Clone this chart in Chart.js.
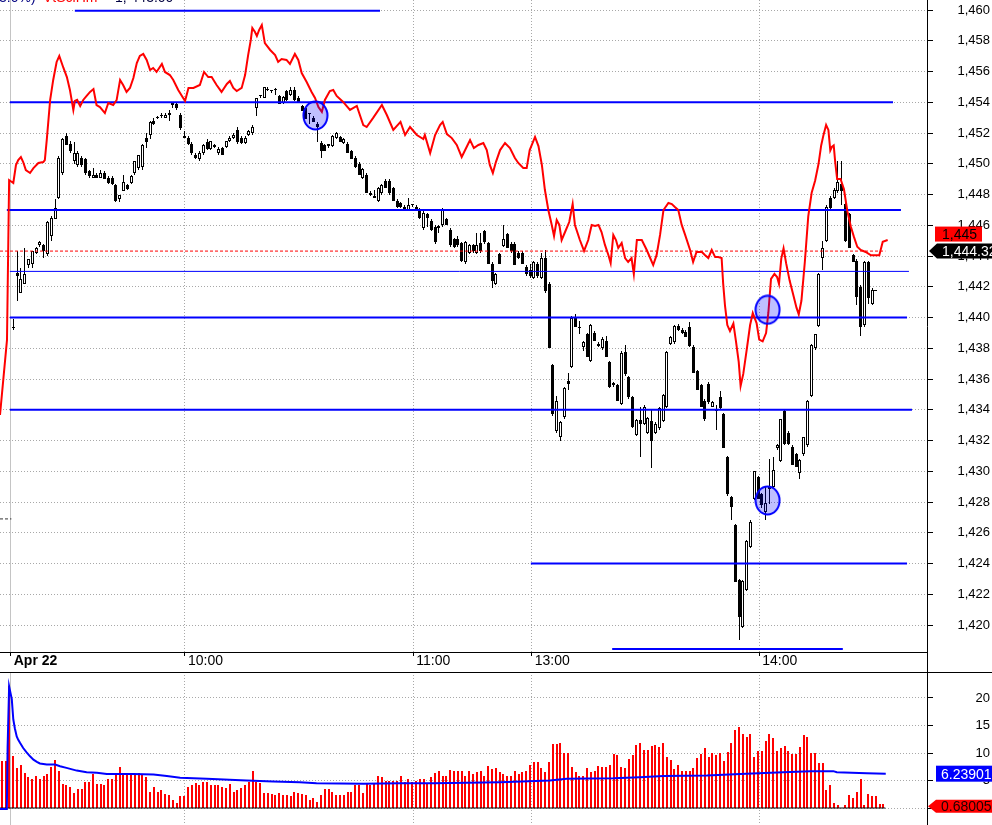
<!DOCTYPE html>
<html>
<head>
<meta charset="utf-8">
<script src="https://cdn.jsdelivr.net/npm/chart.js@4.4.1/dist/chart.umd.min.js"></script>
<style>
  html, body { margin: 0; padding: 0; background: #fff; }
  #wrap { position: relative; width: 992px; height: 825px; overflow: hidden; }
  #price { position: absolute; left: 0; top: 0; }
  #volume { position: absolute; left: 0; top: 672px; }
</style>
</head>
<body>
<div id="wrap">
  <canvas id="price" width="992" height="672"></canvas>
  <canvas id="volume" width="992" height="153"></canvas>
</div>
<script>
// time axis: one slot per 1-minute bar, 0 = first bar of Apr 22
const timeTickIdx = [-0.68, 45.18, 105.26, 136.42, 196.3];
const timeTickLabels = ['Apr 22', '10:00', '11:00', '13:00', '14:00'];
const priceTicks = [1420, 1422, 1424, 1426, 1428, 1430, 1432, 1434, 1436, 1438, 1440,
  1442, 1444, 1446, 1448, 1450, 1452, 1454, 1456, 1458, 1460];
const volumeTicks = [0, 5, 10, 15, 20];

// [open, high, low, close] per bar
const candles = [
  [1439.3,1439.9,1439.2,1439.3],[1442.9,1444.3,1441.1,1442.7],[1441.6,1443.2,1441.6,1442.5],[1442.2,1444.5,1442.2,1442.8],[1443.4,1443.8,1443.2,1443.8],
  [1443.5,1444.3,1443.2,1444.3],[1444.2,1444.6,1444.1,1444.5],[1444.7,1445.0,1444.6,1444.9],[1444.7,1444.8,1443.9,1444.3],[1444.1,1446.3,1444.0,1446.2],
  [1445.3,1446.6,1445.0,1446.5],[1446.4,1447.7,1446.4,1447.1],[1447.8,1450.5,1447.7,1450.4],[1449.4,1451.7,1449.3,1451.6],[1451.8,1452.0,1451.2,1451.2],
  [1451.3,1451.5,1450.7,1450.8],[1450.2,1451.4,1450.0,1450.7],[1449.9,1450.8,1449.8,1450.7],[1450.4,1450.5,1449.8,1449.9],[1450.3,1450.4,1449.3,1449.4],
  [1449.5,1449.6,1449.1,1449.2],[1449.1,1449.7,1449.1,1449.3],[1449.3,1449.4,1449.1,1449.1],[1449.1,1449.6,1449.1,1449.4],[1449.4,1449.5,1449.0,1449.0],
  [1449.1,1449.2,1448.7,1448.75],[1449.1,1449.2,1448.6,1448.7],[1448.6,1448.7,1447.5,1447.6],[1447.7,1448.0,1447.5,1448.0],[1448.2,1449.3,1448.2,1448.8],
  [1448.6,1448.7,1448.3,1448.35],[1448.75,1449.3,1448.7,1449.2],[1449.4,1450.2,1449.3,1450.2],[1449.7,1450.6,1449.6,1450.6],[1449.8,1451.3,1449.6,1451.2],
  [1451.7,1452.0,1451.0,1451.4],[1451.9,1452.8,1451.6,1452.7],[1452.8,1453.0,1452.5,1452.6],[1453.0,1453.1,1452.9,1453.0],[1453.1,1453.3,1453.0,1453.1],
  [1453.0,1453.3,1453.0,1453.2],[1453.2,1453.5,1452.8,1453.3],[1454.0,1454.0,1453.6,1453.8],[1453.9,1454.0,1453.5,1453.6],[1453.2,1453.3,1452.2,1452.3],
  [1451.8,1452.1,1451.7,1451.7],[1451.7,1451.8,1451.2,1451.3],[1451.3,1451.4,1450.6,1450.7],[1450.6,1450.7,1450.3,1450.4],[1450.3,1450.8,1450.2,1450.7],
  [1450.7,1451.3,1450.6,1451.2],[1451.4,1451.6,1450.9,1450.95],[1450.95,1451.5,1450.9,1451.5],[1451.2,1451.3,1451.0,1451.1],[1450.7,1451.1,1450.6,1450.95],
  [1451.0,1451.1,1450.6,1450.6],[1451.1,1451.5,1451.0,1451.5],[1451.5,1451.8,1451.4,1451.7],[1451.7,1452.0,1451.6,1451.9],[1452.2,1452.4,1451.3,1451.4],
  [1451.7,1451.8,1451.3,1451.35],[1451.35,1451.8,1451.3,1451.7],[1451.9,1452.2,1451.8,1452.1],[1452.0,1452.5,1451.9,1452.4],[1453.6,1454.3,1453.1,1454.3],
  [1454.4,1454.5,1454.3,1454.4],[1454.3,1455.0,1454.3,1455.0],[1454.8,1455.0,1454.7,1454.8],[1454.7,1454.8,1454.6,1454.7],[1454.8,1454.9,1454.5,1454.8],
  [1454.4,1454.5,1453.9,1453.9],[1453.95,1454.4,1453.9,1454.35],[1454.7,1454.8,1454.1,1454.15],[1454.5,1455.0,1454.4,1454.8],[1454.8,1455.0,1454.1,1454.15],
  [1454.3,1454.4,1454.0,1454.0],[1453.75,1453.8,1453.4,1453.45],[1453.6,1453.7,1452.9,1452.9],[1453.3,1453.3,1452.6,1453.25],[1453.0,1453.1,1452.7,1452.7],
  [1452.6,1452.7,1451.4,1452.4],[1451.35,1451.5,1450.4,1450.8],[1451.2,1451.3,1450.8,1450.8],[1451.15,1451.3,1451.0,1451.3],[1451.15,1451.9,1451.1,1451.8],
  [1451.7,1452.05,1451.6,1452.0],[1451.75,1451.8,1451.4,1451.4],[1451.35,1451.7,1451.3,1451.6],[1451.3,1451.4,1450.7,1450.7],[1450.8,1450.9,1450.3,1450.3],
  [1450.4,1450.5,1449.7,1449.8],[1450.0,1450.1,1449.3,1449.3],[1449.05,1449.7,1449.0,1449.65],[1449.3,1449.4,1448.1,1448.1],[1448.1,1448.2,1447.9,1447.95],
  [1447.8,1448.3,1447.8,1447.9],[1447.6,1448.5,1447.5,1448.4],[1448.1,1448.7,1448.0,1448.6],[1448.9,1449.0,1448.4,1448.4],[1448.9,1449.0,1448.0,1448.1],
  [1448.4,1448.5,1447.6,1447.6],[1447.6,1447.7,1447.1,1447.2],[1447.45,1447.5,1447.1,1447.2],[1447.2,1447.3,1446.9,1447.0],[1446.9,1447.8,1446.9,1447.3],
  [1447.3,1447.4,1447.2,1447.3],[1447.2,1447.3,1447.0,1447.05],[1447.0,1447.1,1446.4,1446.5],[1445.8,1446.9,1445.7,1446.8],[1446.7,1446.8,1445.9,1446.5],
  [1446.3,1446.4,1445.6,1445.7],[1445.9,1446.0,1444.8,1444.9],[1445.8,1446.0,1445.5,1445.95],[1446.0,1447.1,1445.9,1447.0],[1446.4,1446.5,1446.0,1446.0],
  [1445.7,1445.8,1444.6,1444.7],[1445.1,1445.2,1444.5,1444.6],[1445.1,1445.3,1444.6,1444.7],[1444.85,1444.9,1443.6,1443.7],[1443.6,1445.0,1443.5,1444.9],
  [1444.2,1444.8,1444.1,1444.7],[1444.7,1444.8,1444.2,1444.3],[1444.2,1445.5,1444.1,1444.7],[1444.85,1445.5,1444.2,1444.3],[1445.6,1445.7,1444.8,1444.9],
  [1444.85,1444.9,1443.5,1443.5],[1443.5,1443.6,1441.9,1442.4],[1442.2,1442.9,1442.1,1442.8],[1444.1,1444.2,1443.5,1443.5],[1444.65,1446.0,1444.6,1445.1],
  [1445.4,1445.5,1444.5,1444.5],[1444.8,1444.9,1444.2,1444.3],[1444.8,1444.9,1443.4,1443.4],[1444.2,1444.3,1443.8,1443.9],[1444.2,1444.3,1443.5,1443.5],
  [1443.3,1443.4,1442.7,1442.8],[1443.1,1443.5,1442.6,1442.7],[1442.6,1443.7,1442.5,1443.6],[1443.5,1443.6,1442.6,1442.7],[1442.6,1444.2,1442.5,1443.9],
  [1443.9,1444.4,1441.6,1441.7],[1442.2,1442.3,1438.0,1438.0],[1436.9,1437.0,1433.6,1433.7],[1432.6,1434.9,1432.5,1434.6],[1432.2,1433.3,1432.0,1433.2],
  [1433.5,1435.5,1433.4,1435.4],[1435.9,1436.4,1435.3,1435.7],[1436.8,1440.1,1436.7,1440.0],[1440.0,1440.2,1439.35,1439.4],[1439.35,1439.8,1438.9,1439.3],
  [1438.1,1438.5,1437.8,1438.4],[1438.9,1439.0,1437.4,1437.4],[1437.2,1439.6,1437.1,1439.5],[1439.0,1439.1,1438.5,1438.5],[1438.3,1438.4,1438.1,1438.15],
  [1438.0,1438.7,1437.9,1438.6],[1438.5,1438.8,1437.4,1437.4],[1437.1,1437.2,1435.4,1435.5],[1435.6,1435.8,1435.5,1435.75],[1435.6,1435.7,1434.6,1434.6],
  [1434.4,1437.8,1434.3,1437.7],[1437.75,1438.2,1436.2,1436.3],[1436.1,1436.2,1434.7,1434.8],[1434.8,1434.9,1432.8,1432.9],[1432.35,1433.4,1432.3,1433.35],
  [1433.35,1434.2,1430.9,1433.1],[1433.1,1434.3,1433.0,1434.2],[1432.5,1433.5,1432.4,1433.45],[1433.3,1434.0,1430.2,1432.0],[1432.5,1433.2,1432.4,1433.1],
  [1432.8,1434.2,1432.7,1434.1],[1433.3,1435.0,1433.2,1434.95],[1434.2,1437.8,1434.1,1437.75],[1438.3,1438.8,1438.2,1438.7],[1438.4,1439.5,1438.3,1439.45],
  [1439.45,1439.6,1439.1,1439.2],[1439.2,1439.3,1438.9,1439.0],[1439.05,1439.2,1438.7,1438.75],[1439.4,1439.7,1438.1,1438.15],[1438.1,1438.2,1436.4,1436.4],
  [1436.5,1436.6,1435.3,1435.3],[1435.6,1435.7,1434.2,1434.2],[1434.6,1434.7,1433.3,1433.4],[1435.7,1435.8,1434.4,1434.5],[1434.2,1434.6,1434.15,1434.5],
  [1434.05,1434.3,1432.7,1433.9],[1434.8,1435.2,1434.0,1434.1],[1433.7,1433.8,1431.5,1431.5],[1430.9,1431.0,1428.4,1428.5],[1428.3,1428.4,1426.8,1427.7],
  [1426.5,1426.6,1422.8,1422.8],[1422.9,1423.0,1419.0,1420.5],[1419.9,1422.9,1419.8,1422.85],[1422.3,1425.5,1422.2,1425.45],[1425.05,1426.8,1425.0,1426.7],
  [1428.2,1430.0,1428.1,1430.0],[1429.6,1429.7,1428.2,1428.2],[1428.5,1428.6,1427.6,1427.8],[1427.35,1428.95,1426.8,1427.95],[1428.85,1430.8,1427.9,1429.0],
  [1429.0,1430.9,1428.9,1430.1],[1431.5,1431.8,1431.4,1431.7],[1430.65,1433.4,1430.6,1433.4],[1433.95,1434.0,1431.7,1431.75],[1432.5,1432.6,1431.7,1431.75],
  [1431.6,1431.7,1430.4,1430.4],[1431.1,1431.2,1430.3,1430.3],[1429.9,1430.8,1429.5,1430.75],[1431.1,1432.25,1431.0,1432.2],[1431.7,1434.65,1431.6,1434.6],
  [1434.9,1438.3,1434.8,1438.2],[1438.0,1438.9,1437.9,1438.9],[1439.45,1442.9,1439.4,1442.85],[1443.9,1445.0,1443.1,1444.5],[1445.0,1447.3,1444.9,1447.2],
  [1447.75,1447.9,1447.0,1447.1],[1447.8,1448.4,1447.7,1448.3],[1448.2,1450.2,1448.1,1448.8],[1448.7,1450.2,1447.3,1448.25],[1447.4,1447.5,1444.9,1444.95],
  [1446.7,1446.8,1444.5,1444.5],[1444.05,1444.1,1443.6,1443.6],[1443.7,1443.8,1440.8,1441.35],[1442.0,1442.1,1438.8,1439.4],[1439.5,1443.7,1439.4,1443.6],
  [1443.6,1443.7,1440.9,1441.3],[1440.9,1441.9,1440.8,1441.8],[1441.75,1441.8,1441.7,1441.75]
];

// overlay instrument (red line), read at bar positions
const redIdx = [-3.5,-1.66,-1.1,0,0.7,1.3,2.0,2.6,3.3,4.4,5.3,6.6,7.9,8.3,8.8,9.7,10.5,11.4,12.1,13.2,
  14.1,14.9,15.8,16.2,16.8,17.6,18.4,19.3,20.2,21.1,21.9,22.8,24.1,25.0,26.3,27.2,28.1,28.9,29.8,30.7,
  31.6,32.5,33.3,34.2,35.1,36.0,36.8,37.7,39.1,39.9,41.2,42.1,43.4,44.7,45.2,46.1,47.4,49.1,50.2,51.3,
  52.2,53.5,54.8,56.2,57.0,57.9,58.8,60.1,61.0,61.8,62.5,62.9,63.6,64.1,64.7,65.4,66.2,67.6,68.9,69.7,
  70.6,71.9,72.8,74.1,75.0,75.9,77.2,78.5,79.4,80.3,81.2,82.0,83.3,84.2,85.1,86.8,88.6,90.4,92.1,93.0,
  94.7,97.0,98.3,100.0,101.9,103.1,104.4,106.2,107.9,108.3,109.7,111.0,112.3,113.0,114.1,115.4,116.7,118.0,119.3,120.2,
  121.2,122.4,123.7,124.6,125.4,126.2,127.0,128.1,129.4,130.7,132.0,132.9,134.2,135.1,135.9,137.3,138.2,139.1,139.9,140.8,
  141.7,142.3,143.0,143.7,144.3,145.2,146.3,147.2,147.8,149.1,150.2,151.3,152.2,153.1,154.0,154.8,155.7,156.6,157.2,157.9,
  158.6,159.2,160.1,161.0,161.8,162.7,163.3,164.1,165.4,166.7,167.6,168.4,169.3,170.2,171.1,172.4,173.3,174.1,175.0,175.9,
  176.8,178.1,178.9,179.8,181.2,182.0,182.9,183.8,184.7,185.5,186.4,186.8,187.3,187.9,188.6,189.5,190.2,190.9,191.4,192.1,
  193.0,193.9,194.6,195.6,196.3,197.2,198.1,198.7,199.4,200.3,201.0,201.5,202.1,202.7,203.4,204.3,205.2,206.1,206.7,207.4,
  208.3,209.2,210.1,211.0,211.9,212.6,213.2,213.9,214.5,215.0,215.4,215.9,216.3,216.8,217.7,218.6,219.5,220.4,221.2,222.1,
  223.0,224.3,225.7,227.9,228.8,230.1];
const redVal = [1433.66,1438.54,1448.94,1448.75,1449.92,1450.24,1450.44,1450.11,1449.59,1449.40,1449.72,1450.05,1450.11,1450.24,1451.54,1454.15,1455.45,1456.62,1457.01,1456.23,
  1455.64,1454.80,1453.50,1454.08,1454.15,1453.76,1454.15,1454.41,1454.67,1454.86,1453.82,1453.69,1453.30,1453.95,1453.82,1454.15,1455.45,1455.12,1454.67,1454.93,
  1455.58,1456.55,1457.01,1457.14,1456.75,1456.10,1456.23,1455.97,1456.49,1455.97,1455.77,1455.45,1454.80,1454.28,1454.08,1454.93,1454.93,1455.12,1455.97,1455.64,
  1455.64,1455.12,1454.67,1455.19,1455.38,1454.93,1454.73,1454.93,1455.77,1457.07,1458.05,1458.83,1458.57,1458.31,1458.70,1459.02,1457.85,1457.40,1457.07,1456.62,
  1456.81,1456.75,1456.49,1457.14,1456.75,1455.90,1455.32,1454.67,1454.28,1453.69,1453.37,1454.15,1454.73,1454.80,1454.41,1454.02,1453.50,1453.76,1452.52,1452.39,
  1452.98,1453.82,1453.17,1452.20,1452.72,1451.87,1452.39,1451.87,1451.61,1451.87,1450.70,1451.87,1452.52,1452.72,1451.93,1451.67,1451.22,1450.44,1451.09,1451.54,
  1451.02,1451.22,1451.35,1450.89,1449.92,1449.40,1450.11,1450.89,1451.35,1451.02,1450.37,1450.05,1449.72,1449.72,1450.89,1451.74,1451.15,1449.92,1448.29,1446.99,
  1446.02,1445.30,1446.34,1446.02,1445.04,1445.56,1446.21,1447.38,1446.02,1445.04,1444.33,1445.04,1446.02,1445.95,1446.02,1445.56,1444.72,1444.07,1443.54,1445.37,
  1445.04,1444.52,1444.85,1443.87,1443.61,1443.87,1442.83,1445.04,1445.04,1444.39,1443.87,1443.41,1444.07,1445.37,1446.99,1447.45,1447.38,1447.19,1446.99,1446.02,
  1445.37,1444.39,1443.61,1444.26,1444.26,1444.07,1443.87,1444.39,1443.93,1443.93,1443.87,1442.24,1440.75,1439.51,1439.12,1439.61,1438.41,1437.11,1435.55,1436.33,
  1437.89,1439.51,1440.29,1439.64,1438.56,1438.45,1438.99,1440.31,1442.51,1442.84,1442.63,1442.18,1443.83,1444.49,1443.50,1442.40,1441.53,1440.64,1440.20,1441.09,
  1443.61,1446.58,1448.12,1448.89,1449.98,1451.19,1451.86,1452.52,1452.20,1450.87,1451.09,1451.19,1450.09,1449.01,1449.01,1448.34,1446.91,1445.92,1445.26,1444.60,
  1444.39,1444.26,1444.05,1444.05,1444.93,1445.04];

// horizontal levels: value, first bar, last bar
const levelValues = [1459.95, 1454, 1447, 1443, 1440, 1434, 1424, 1418.44];
const levelFrom = [16.2, -0.9, -1.7, -0.9, -0.9, -0.9, 136.2, 157.6];
const levelTo = [96.5, 231.5, 233.6, 235.7, 235.2, 236.5, 235.2, 218.3];
const lastPrice = 1444.32;
const prevMarkValue = 1426.9;

// circled bars
const markIdx = [79.5, 198.5, 198.5];
const markVal = [1453.14, 1440.5, 1428.1];

// volume panel
const volumeStart = -3;
const volumes = [8.5,8.5,22.1,9.5,7.2,7.9,6.4,5.6,5.2,5.8,
  5.2,5.9,6.1,7.4,8.8,6.7,4.4,4.2,3.9,2.7,
  3.5,3.5,4.7,4.8,6.1,4.4,4.4,4.1,5.2,5.3,
  6.2,7.4,6.2,6.2,6.1,6.2,6.4,6.1,5.6,2.9,
  3.8,2.9,3.3,2.6,2.4,1.5,1.0,2.1,2.2,3.8,
  4.2,4.5,4.2,4.8,4.8,4.2,4.2,4.1,3.9,3.6,
  4.4,3.0,3.2,3.6,4.1,4.8,6.7,4.8,4.5,2.8,
  2.8,2.6,2.3,2.7,2.4,2.4,2.1,2.9,2.7,2.6,
  2.3,1.5,1.8,1.1,2.4,3.5,3.5,2.9,2.3,2.4,
  2.4,2.9,2.9,4.1,4.1,2.7,4.4,4.2,4.5,5.9,
  5.6,5.0,5.0,5.0,5.0,5.8,4.7,5.2,4.8,5.0,
  5.2,5.2,4.5,5.6,6.4,6.7,5.9,5.9,7.0,6.8,
  6.7,6.7,5.9,6.7,6.1,6.5,6.7,5.9,7.6,7.1,
  7.3,
  6.5,6.2,5.9,5.8,6.8,6.1,6.5,6.8,7.9,8.3,
  8.4,7.2,6.5,8.4,11.7,11.7,11.9,10.0,10.0,7.4,
  6.6,5.8,5.9,7.3,6.5,6.7,7.7,7.5,7.5,7.9,
  9.9,9.7,7.5,7.2,9.0,9.7,11.5,11.8,10.6,10.6,
  11.3,11.5,11.1,11.8,9.3,8.7,7.1,7.9,6.8,6.8,
  6.7,7.2,9.1,9.9,10.9,9.2,10.0,9.7,10.0,8.6,
  10.2,11.8,14.1,14.7,13.5,13.0,13.5,9.3,10.3,10.4,
  12.1,13.5,12.8,10.4,11.0,11.3,10.3,9.9,9.9,11.1,
  13.3,13.0,10.0,10.0,8.1,8.1,3.3,4.1,1.0,0.5,
  0,0.5,2.4,1.9,2.9,5.2,0.6,2.6,2.2,2.2,
  0.68,0.68];
const volMaIdx = [-3.5,-1.7,-1.5,-1.1,-0.4,0.0,0.4,0.9,1.3,1.8,2.6,3.5,4.4,5.3,6.2,7.0,8.8,11.0,12.3,14.0,
  16.7,19.3,22.0,24.6,31.6,36.9,40.4,43.9,50.9,61.4,68.4,75.4,79.8,92.1,101.8,110.5,128.1,141.2,145.6,157.9,
  164.9,171.1,182.5,191.3,202.6,209.7,215.8,216.7,224.6,229.6];
const volMaVal = [-0.2,-0.2,11.0,22.1,19.8,16.1,14.5,13.0,12.4,11.8,10.9,10.1,9.4,8.8,8.4,8.1,7.9,7.9,7.6,7.3,
  6.8,6.5,6.4,6.2,6.2,6.1,5.8,5.5,5.3,5.0,4.8,4.7,4.5,4.4,4.5,4.5,4.7,5.0,5.3,5.4,
  5.6,5.8,5.9,6.2,6.5,6.7,6.7,6.5,6.3,6.24];
const volMaLast = 6.23901;
const volLast = 0.68005;

// ---- view window ----
const X_MIN = -3.5, X_MAX = 240.45;
const Y_MAX = 1460 + 10 / 15.375, Y_MIN = Y_MAX - 652 / 15.375;
const V_MAX = 136 / 5.5, V_MIN = V_MAX - 153 / 5.5;
const FONT = '"Liberation Sans", Arial, sans-serif';
const GRID = '#a8a8a8';
const dayTick = timeTickIdx[0];
const lastBar = volumeStart + volumes.length - 1;

function fmt(v, d) {
  return v.toLocaleString('en-US', { minimumFractionDigits: d, maximumFractionDigits: d });
}

function ringSprite() {
  const c = document.createElement('canvas');
  c.width = 27; c.height = 31;
  const g = c.getContext('2d');
  g.beginPath();
  g.ellipse(13.5, 15.5, 12, 14, 0, 0, Math.PI * 2);
  g.fillStyle = 'rgba(0,0,255,0.25)';
  g.fill();
  g.lineWidth = 2;
  g.strokeStyle = '#0000ff';
  g.stroke();
  return c;
}

// keep the thin bars on whole pixels so candles stay crisp
const snapBars = {
  id: 'snapBars',
  afterDatasetsUpdate(chart) {
    chart.data.datasets.forEach((ds, i) => {
      const meta = chart.getDatasetMeta(i);
      if (meta.type !== 'bar') return;
      const odd = ds.barThickness % 2 === 1;
      meta.data.forEach(el => {
        el.x = odd ? Math.floor(el.x) + 0.5 : Math.round(el.x);
        el.y = Math.round(el.y);
        el.base = Math.round(el.base);
        if (el.y === el.base && ds.minOnePixel) el.y = el.base - 1;
      });
    });
  }
};

function timeScale(showLabels) {
  return {
    type: 'linear', min: X_MIN, max: X_MAX, offset: false, position: 'bottom',
    afterBuildTicks: s => { s.ticks = timeTickIdx.map(v => ({ value: v })); },
    afterFit: s => { s.height = showLabels ? 20 : 0; s.paddingLeft = 0; s.paddingRight = 0; },
    ticks: {
      display: showLabels, autoSkip: false, maxRotation: 0, align: 'start', labelOffset: 3, padding: -3,
      color: '#000',
      font: ctx => ({ family: FONT, size: 14, weight: ctx.index === 0 ? 'bold' : 'normal' }),
      callback: (v, i) => timeTickLabels[i]
    },
    grid: {
      offset: false, drawTicks: showLabels, tickLength: 4, tickColor: '#000', tickBorderDash: [],
      color: ctx => (ctx.tick && ctx.tick.value === dayTick) ? '#c4c4c4' : GRID
    },
    border: {
      display: showLabels, color: '#000', width: 1,
      dash: ctx => (ctx.tick && ctx.tick.value === dayTick) ? [] : [1, 2]
    }
  };
}

function valueScale(min, max, tickValues, fmtFn, pad) {
  return {
    position: 'right', min: min, max: max,
    afterBuildTicks: s => { s.ticks = tickValues.map(v => ({ value: v })); },
    afterFit: s => { s.width = 63; s.paddingTop = 0; s.paddingBottom = 0; },
    ticks: { callback: fmtFn, crossAlign: 'far', padding: pad, color: '#000', font: { family: FONT, size: 13 } },
    grid: { color: GRID, tickColor: '#000', tickLength: 6, tickBorderDash: [] },
    border: { color: '#000', width: 1, dash: [1, 2] }
  };
}

const baseOptions = {
  responsive: false, animation: false, devicePixelRatio: 1,
  layout: { padding: { left: 0, right: 2, top: 0, bottom: 0 }, autoPadding: false },
  plugins: { legend: { display: false }, tooltip: { enabled: false } },
  events: []
};

// ---- price panel ----
const wickData = candles.map((c, i) => ({ x: i, y: [c[2], c[1]] }));
const bodyData = candles.map((c, i) => ({ x: i, y: [Math.min(c[0], c[3]), Math.max(c[0], c[3])] }));
const bodyFill = candles.map(c => (c[3] > c[0] ? '#ffffff' : '#000000'));

const levelSets = levelValues.map((v, k) => ({
  type: 'line', order: 2,
  data: [{ x: levelFrom[k], y: v }, { x: levelTo[k], y: v }],
  borderColor: '#0000ff', borderWidth: v === 1443 ? 1 : 2,
  pointRadius: 0, tension: 0
}));

const priceDecor = {
  id: 'priceDecor',
  afterDraw(chart) {
    const { ctx, chartArea: a, scales: { y } } = chart;
    const right = Math.round(a.right);
    ctx.save();
    // axis line continues through the time strip
    ctx.strokeStyle = '#000';
    ctx.lineWidth = 1;
    ctx.beginPath();
    ctx.moveTo(right + 0.5, a.bottom);
    ctx.lineTo(right + 0.5, chart.height);
    ctx.stroke();

    ctx.font = '14px ' + FONT;
    ctx.textBaseline = 'middle';
    // last price tag
    const yb = y.getPixelForValue(lastPrice);
    ctx.fillStyle = '#000';
    ctx.beginPath();
    ctx.moveTo(right + 2, yb);
    ctx.lineTo(right + 10, yb - 7.5);
    ctx.lineTo(chart.width, yb - 7.5);
    ctx.lineTo(chart.width, yb + 7.5);
    ctx.lineTo(right + 10, yb + 7.5);
    ctx.closePath();
    ctx.fill();
    ctx.fillStyle = '#fff';
    ctx.fillText(fmt(lastPrice, 2), right + 15, yb + 1);
    // overlay instrument tag, stacked above
    const yr = yb - 17;
    ctx.fillStyle = '#ff0000';
    ctx.fillRect(right + 8, yr - 7.5, 47, 15);
    ctx.fillStyle = '#000';
    ctx.fillText(fmt(redVal[redVal.length - 1], 0), right + 15, yr + 1);

    // clipped title line at the very top
    ctx.textBaseline = 'alphabetic';
    ctx.fillStyle = '#000080';
    ctx.fillText('3.0%)', -1, 2);
    ctx.fillStyle = '#ff0000';
    ctx.fillText('VtSciHm', 43, 2);
    ctx.fillStyle = '#000040';
    ctx.fillText('1, 443.00', 115, 2);
    ctx.restore();
  }
};

new Chart(document.getElementById('price'), {
  type: 'bar',
  data: {
    datasets: [
      {
        type: 'line', order: 0, showLine: false,
        data: markIdx.map((x, k) => ({ x: x, y: markVal[k] })),
        pointStyle: ringSprite(), pointRadius: 14
      },
      {
        type: 'line', order: 1,
        data: redIdx.map((x, k) => ({ x: x, y: redVal[k] })),
        borderColor: '#ff0000', borderWidth: 2, pointRadius: 0, tension: 0
      },
      ...levelSets,
      {
        type: 'line', order: 3,
        data: [{ x: X_MIN, y: lastPrice }, { x: lastBar + 0.5, y: lastPrice }],
        borderColor: '#ff0000', borderWidth: 1, borderDash: [3, 2], pointRadius: 0
      },
      {
        type: 'line', order: 3,
        data: [{ x: X_MIN, y: prevMarkValue }, { x: -0.5, y: prevMarkValue }],
        borderColor: '#333333', borderWidth: 1, borderDash: [3, 2], pointRadius: 0
      },
      {
        type: 'bar', order: 4, data: bodyData, minOnePixel: true,
        backgroundColor: bodyFill, borderColor: '#000', borderWidth: 1,
        borderSkipped: false, barThickness: 3, grouped: false, inflateAmount: 0
      },
      {
        type: 'bar', order: 5, data: wickData, minOnePixel: true,
        backgroundColor: '#000', borderWidth: 0,
        barThickness: 1, grouped: false, inflateAmount: 0
      }
    ]
  },
  options: {
    ...baseOptions,
    scales: {
      x: timeScale(true),
      y: valueScale(Y_MIN, Y_MAX, priceTicks, v => fmt(v, 0), 24)
    }
  },
  plugins: [snapBars, priceDecor]
});

// ---- volume panel ----
const volumeDecor = {
  id: 'volumeDecor',
  afterDraw(chart) {
    const { ctx, chartArea: a, scales: { y } } = chart;
    const right = Math.round(a.right);
    ctx.save();
    ctx.strokeStyle = '#000';
    ctx.lineWidth = 1;
    ctx.beginPath();
    ctx.moveTo(0, 0.5);
    ctx.lineTo(chart.width, 0.5);
    ctx.stroke();

    ctx.font = '14px ' + FONT;
    ctx.textBaseline = 'middle';
    const yb = y.getPixelForValue(volMaLast);
    ctx.fillStyle = '#0000ff';
    ctx.fillRect(right + 9, yb - 8, chart.width - right - 9, 16);
    ctx.fillStyle = '#fff';
    ctx.fillText(volMaLast.toFixed(5), right + 14, yb + 1);

    const yv = y.getPixelForValue(volLast) + 2;
    ctx.fillStyle = '#ff0000';
    ctx.beginPath();
    ctx.moveTo(right + 1, yv);
    ctx.lineTo(right + 9, yv - 6.5);
    ctx.lineTo(chart.width, yv - 6.5);
    ctx.lineTo(chart.width, yv + 6.5);
    ctx.lineTo(right + 9, yv + 6.5);
    ctx.closePath();
    ctx.fill();
    ctx.fillStyle = '#200000';
    ctx.fillText(volLast.toFixed(5), right + 14, yv + 1);
    ctx.restore();
  }
};

new Chart(document.getElementById('volume'), {
  type: 'bar',
  data: {
    datasets: [
      {
        type: 'line', order: 0,
        data: volMaIdx.map((x, k) => ({ x: x, y: volMaVal[k] })),
        borderColor: '#0000ff', borderWidth: 2, pointRadius: 0, tension: 0
      },
      {
        type: 'line', order: 1,
        data: [{ x: X_MIN, y: 0 }, { x: lastBar + 0.5, y: 0 }],
        borderColor: '#000', borderWidth: 1, pointRadius: 0
      },
      {
        type: 'bar', order: 2,
        data: volumes.map((v, k) => ({ x: volumeStart + k, y: v })),
        backgroundColor: '#ff0000', borderWidth: 0,
        barThickness: 2, grouped: false, inflateAmount: 0
      }
    ]
  },
  options: {
    ...baseOptions,
    scales: {
      x: timeScale(false),
      y: valueScale(V_MIN, V_MAX, volumeTicks, v => String(v), 43)
    }
  },
  plugins: [snapBars, volumeDecor]
});
</script>
</body>
</html>
